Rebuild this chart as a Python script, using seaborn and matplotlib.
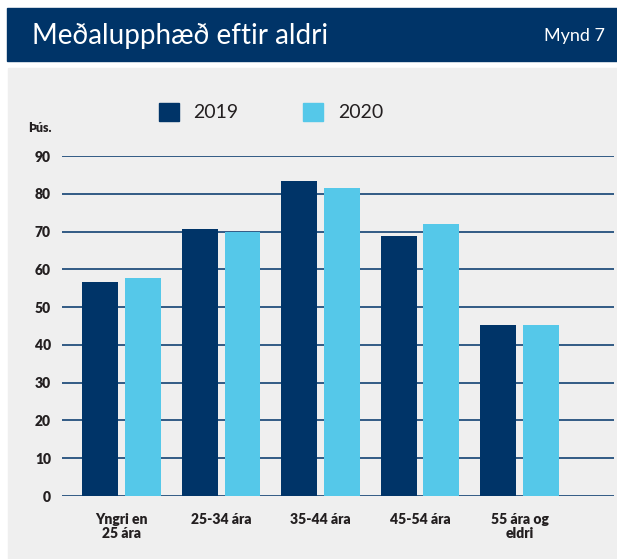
import matplotlib
matplotlib.use("Agg")
import matplotlib.pyplot as plt
import matplotlib.patches as mpatches
import seaborn as sns
import pandas as pd

# Data (þús. kr.)
categories = ["Yngri en\n25 ára", "25-34 ára", "35-44 ára", "45-54 ára", "55 ára og\neldri"]
years = ["2019", "2020"]
values_2019 = [56.6, 70.7, 83.4, 68.8, 45.3]
values_2020 = [57.7, 70.0, 81.5, 72.0, 45.3]
yticks = [0, 10, 20, 30, 40, 50, 60, 70, 80, 90]

NAVY = "#003468"
LIGHT = "#55C8E9"
PANEL = "#EFEFEF"
TEXT = "#231F20"

df = pd.DataFrame({
    "aldur": categories * 2,
    "ar": [years[0]] * len(categories) + [years[1]] * len(categories),
    "gildi": values_2019 + values_2020,
})

sns.set_style("white")
plt.rcParams["font.family"] = ["Lato", "DejaVu Sans"]

fig = plt.figure(figsize=(6.17, 5.59), dpi=100)
fig.patch.set_facecolor("white")

# header band and grey panel
fig.patches.append(mpatches.Rectangle((7 / 617, 1 - 61 / 559), 1, 53 / 559,
                                      transform=fig.transFigure, color=NAVY, zorder=-1))
fig.patches.append(mpatches.Rectangle((8 / 617, 0), 1, 1 - 68 / 559,
                                      transform=fig.transFigure, color=PANEL, zorder=-1))
fig.text(32 / 617, 1 - 36 / 559, "Meðalupphæð eftir aldri", color="white",
         fontsize=20, va="center", ha="left")
fig.text(605 / 617, 1 - 36 / 559, "Mynd 7", color="white",
         fontsize=13, va="center", ha="right")

ax = fig.add_axes([62 / 617, 1 - 496 / 559, (614 - 62) / 617, (496 - 156) / 559])
ax.set_facecolor("none")
ax.set_zorder(2)

sns.barplot(data=df, x="aldur", y="gildi", hue="ar", palette=[NAVY, LIGHT],
            width=0.86, gap=0.16, saturation=1, linewidth=0, ax=ax,
            legend=False, zorder=3)

ax.set_ylim(0, 90)
ax.set_xlim(-0.6, 4.95)
ax.set_yticks(yticks)
ax.yaxis.grid(True, color=NAVY, linewidth=1.3, alpha=0.85, zorder=0)
ax.set_axisbelow(True)
for s in ax.spines.values():
    s.set_visible(False)
ax.tick_params(axis="both", length=0, colors=TEXT, labelsize=10)
ax.tick_params(axis="y", pad=8)
ax.tick_params(axis="x", pad=12)
for lbl in ax.get_xticklabels() + ax.get_yticklabels():
    lbl.set_fontweight("heavy")
for lbl in ax.get_xticklabels():
    lbl.set_linespacing(1.1)
ax.set_xlabel("")
ax.set_ylabel("")

fig.text(28 / 617, 1 - 128 / 559, "Þús.", fontsize=9, fontweight="heavy",
         color=TEXT, va="center", ha="left")

handles = [mpatches.Patch(color=NAVY, label=years[0]),
           mpatches.Patch(color=LIGHT, label=years[1])]
fig.legend(handles=handles, loc="center left", bbox_to_anchor=(141 / 617, 1 - 112 / 559),
           ncol=2, frameon=False, fontsize=14, handlelength=1.05, handleheight=1.05,
           handletextpad=0.75, columnspacing=3.3, labelcolor=TEXT)

fig.savefig("out.png", dpi=100)
